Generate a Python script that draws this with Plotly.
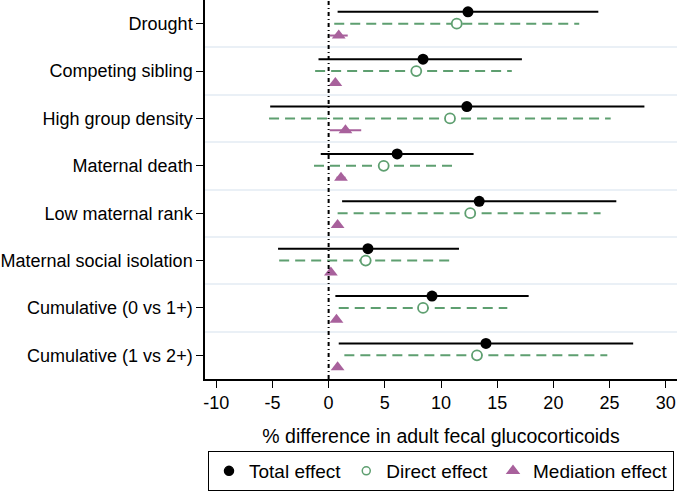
import plotly.graph_objects as go

categories = ["Drought", "Competing sibling", "High group density", "Maternal death",
              "Low maternal rank", "Maternal social isolation",
              "Cumulative (0 vs 1+)", "Cumulative (1 vs 2+)"]

total_est = [12.4, 8.4, 12.3, 6.1, 13.4, 3.5, 9.2, 14.0]
total_lo = [0.8, -0.9, -5.2, -0.7, 1.2, -4.5, 0.6, 0.9]
total_hi = [24.0, 17.2, 28.1, 12.9, 25.6, 11.6, 17.8, 27.1]

direct_est = [11.4, 7.8, 10.8, 4.9, 12.6, 3.3, 8.4, 13.2]
direct_lo = [0.5, -1.2, -5.3, -1.3, 0.8, -4.4, 0.9, 1.4]
direct_hi = [22.3, 16.3, 25.1, 11.2, 24.2, 11.1, 15.9, 24.8]

med_est = [0.9, 0.6, 1.5, 1.1, 0.8, 0.2, 0.7, 0.8]
med_lo = [0.1, 0.3, 0.1, 0.7, 0.5, 0.0, 0.4, 0.5]
med_hi = [1.7, 0.9, 2.9, 1.5, 1.1, 0.4, 1.0, 1.1]

x_ticks = [-10, -5, 0, 5, 10, 15, 20, 25, 30]

BLACK = "#000000"
GREEN = "#5e9f70"
PURPLE = "#a8619c"
FONT = "Liberation Sans, Arial, sans-serif"

offsets = {"total": -0.25, "direct": 0.0, "med": 0.25}


def seg_xy(lo, hi, off):
    xs, ys = [], []
    for i, (a, b) in enumerate(zip(lo, hi)):
        xs += [a, b, None]
        ys += [i + off, i + off, None]
    return xs, ys


fig = go.Figure()

# CI lines
for lo, hi, key, color, dash in [
    (total_lo, total_hi, "total", BLACK, "solid"),
    (direct_lo, direct_hi, "direct", GREEN, "10px,6px"),
    (med_lo, med_hi, "med", PURPLE, "solid"),
]:
    xs, ys = seg_xy(lo, hi, offsets[key])
    fig.add_trace(go.Scatter(x=xs, y=ys, mode="lines", showlegend=False,
                             hoverinfo="skip",
                             line=dict(color=color, width=2, dash=dash)))

ypos = list(range(len(categories)))

fig.add_trace(go.Scatter(
    x=total_est, y=[p + offsets["total"] for p in ypos], mode="markers",
    name="Total effect", showlegend=False,
    marker=dict(symbol="circle", size=11, color=BLACK)))
fig.add_trace(go.Scatter(
    x=direct_est, y=[p + offsets["direct"] for p in ypos], mode="markers",
    name="Direct effect", showlegend=False,
    marker=dict(symbol="circle", size=10, color="white", line=dict(width=1.8, color=GREEN))))
fig.add_trace(go.Scatter(
    x=med_est, y=[p + offsets["med"] for p in ypos], mode="markers",
    name="Mediation effect", showlegend=False,
    marker=dict(symbol="triangle-up", size=12, color=PURPLE)))

# legend-only entries (smaller symbols, as in the reference key)
for name, sym, size, color, fill in [
    ("Total effect", "circle", 9, BLACK, BLACK),
    ("Direct effect", "circle", 8, GREEN, "white"),
    ("Mediation effect", "triangle-up", 10, PURPLE, PURPLE),
]:
    fig.add_trace(go.Scatter(x=[None], y=[None], mode="markers", name=name,
                             marker=dict(symbol=sym, size=size, color=fill,
                                         line=dict(width=1.5, color=color))))

# zero reference line
fig.add_vline(x=0, line=dict(color=BLACK, width=2, dash="4px,3px,1px,3px"))

fig.update_layout(
    width=677, height=491,
    margin=dict(l=205, r=0, t=0, b=108),
    paper_bgcolor="white", plot_bgcolor="white",
    font=dict(family=FONT, size=18, color="#000000"),
    showlegend=True,
    legend=dict(orientation="h", x=0.5, xanchor="center", y=-0.19, yanchor="top",
                bordercolor="#000000", borderwidth=1, font=dict(size=19),
                itemwidth=30, tracegroupgap=0),
    xaxis=dict(range=[-11, 31], tickvals=x_ticks, ticktext=[str(t) for t in x_ticks],
               showgrid=False, zeroline=False, showline=True, linecolor="#000000",
               linewidth=1.5, ticks="outside", ticklen=7, tickwidth=1.2,
               tickcolor="#000000", tickfont=dict(size=18),
               title=dict(text="% difference in adult fecal glucocorticoids",
                          font=dict(size=19.5), standoff=17)),
    yaxis=dict(range=[len(categories) - 0.5, -0.5], tickvals=ypos, ticktext=categories,
               showgrid=False, zeroline=False, showline=True, linecolor="#000000",
               linewidth=1.5, ticks="outside", ticklen=7, tickwidth=1.2,
               tickcolor="#000000", tickfont=dict(size=18),
               minor=dict(tickmode="linear", tick0=0.5, dtick=1, showgrid=True,
                          gridcolor="#eaf0f6", gridwidth=1.5, ticks="")),
)

fig.write_html("out.html", config={"displayModeBar": False},
               post_script="document.body.style.margin='0';document.body.style.overflow='hidden';")
